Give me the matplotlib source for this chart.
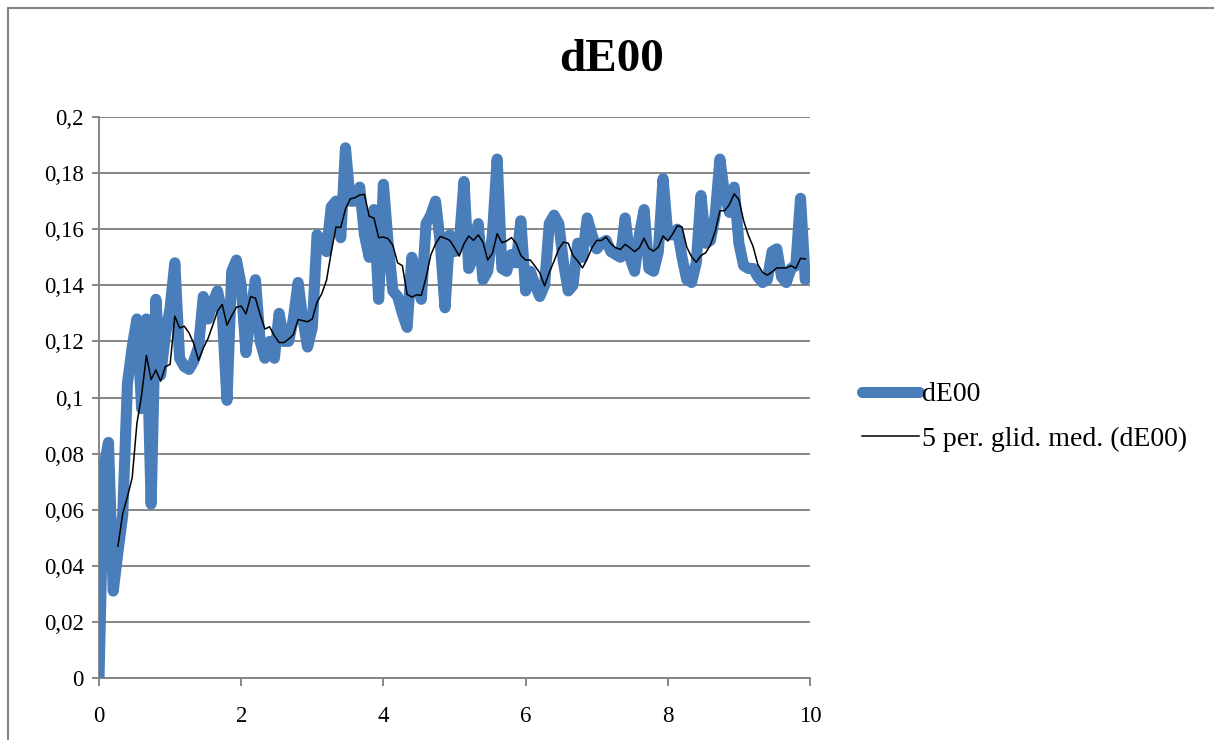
import matplotlib
matplotlib.use("Agg")
import matplotlib.pyplot as plt
import numpy as np
import pandas as pd
from matplotlib.patches import Rectangle

# measurement series, one point every 1/15 unit on x
step = 1 / 15
de00 = [
    0.000, 0.075, 0.084, 0.031, 0.045, 0.058, 0.105, 0.118, 0.128, 0.096,
    0.128, 0.062, 0.135, 0.108, 0.122, 0.132, 0.148, 0.114, 0.111, 0.110,
    0.113, 0.118, 0.136, 0.128, 0.134, 0.138, 0.130, 0.099, 0.145, 0.149,
    0.140, 0.116, 0.130, 0.142, 0.120, 0.114, 0.120, 0.114, 0.130, 0.120,
    0.120, 0.128, 0.141, 0.128, 0.118, 0.125, 0.158, 0.156, 0.152, 0.168,
    0.170, 0.157, 0.189, 0.170, 0.170, 0.175, 0.158, 0.150, 0.167, 0.135,
    0.176, 0.155, 0.138, 0.136, 0.130, 0.125, 0.150, 0.142, 0.135, 0.162,
    0.165, 0.170, 0.155, 0.132, 0.158, 0.152, 0.155, 0.177, 0.146, 0.150,
    0.162, 0.142, 0.145, 0.158, 0.185, 0.146, 0.145, 0.151, 0.148, 0.163,
    0.138, 0.145, 0.140, 0.136, 0.140, 0.162, 0.165, 0.162, 0.148, 0.138,
    0.140, 0.155, 0.150, 0.164, 0.158, 0.153, 0.155, 0.156, 0.152, 0.151,
    0.150, 0.164, 0.150, 0.145, 0.158, 0.167, 0.146, 0.145, 0.152, 0.178,
    0.158, 0.158, 0.160, 0.150, 0.142, 0.141, 0.148, 0.172, 0.155, 0.156,
    0.165, 0.185, 0.172, 0.166, 0.175, 0.155, 0.147, 0.146, 0.146, 0.143,
    0.141, 0.142, 0.152, 0.153, 0.143, 0.141, 0.146, 0.147, 0.171, 0.142,
]
x = np.arange(len(de00)) * step
ma = pd.Series(de00).rolling(5).mean()

xticks = [0, 2, 4, 6, 8, 10]
yticks = [0, 0.02, 0.04, 0.06, 0.08, 0.1, 0.12, 0.14, 0.16, 0.18, 0.2]

serif = ["Liberation Serif", "DejaVu Serif"]
grey = "#868686"

fig = plt.figure(figsize=(12.14, 7.40), dpi=100)
ax = fig.add_axes([99 / 1214, 1 - 678 / 740, 711 / 1214, 561 / 740])

ax.plot(x, de00, color="#4A7EBB", lw=8, solid_joinstyle="round",
        solid_capstyle="round", label="dE00", zorder=3)
ax.plot(x, ma, color="black", lw=1.1, label="5 per. glid. med. (dE00)", zorder=4)

ax.set_xlim(0, 10)
ax.set_ylim(0, 0.2)
ax.set_xticks(xticks)
ax.set_yticks(yticks)
ax.set_xticklabels([str(t) for t in xticks])
ax.set_yticklabels([f"{t:g}".replace(".", ",") for t in yticks])
ax.yaxis.grid(True, color=grey, lw=1.4)
ax.set_axisbelow(True)
for s in ["top", "right"]:
    ax.spines[s].set_visible(False)
for s in ["left", "bottom"]:
    ax.spines[s].set_color(grey)
    ax.spines[s].set_linewidth(1.4)
ax.tick_params(axis="y", length=5, width=1.4, color=grey, pad=6)
ax.tick_params(axis="x", length=6, width=1.4, color=grey, pad=14)
for lab in ax.get_xticklabels() + ax.get_yticklabels():
    lab.set_family(serif)
    lab.set_fontsize(16.5)

fig.text(0.504, 1 - 60 / 740, "dE00", ha="center", va="center",
         family=serif, fontsize=34, fontweight="bold")

ax.legend(loc="center left", bbox_to_anchor=(862 / 1214, 1 - 417 / 740),
          bbox_transform=fig.transFigure, frameon=False, borderpad=0,
          borderaxespad=0, handlelength=2.05, handletextpad=0.12,
          labelspacing=0.7, prop={"family": serif, "size": 20})

# outer chart frame (only top and left edges are inside the picture)
fig.patches.append(Rectangle((8 / 1214, -0.1), 1.2, 1 - 8 / 740 + 0.1,
                             transform=fig.transFigure, fill=False,
                             edgecolor=grey, lw=1.5))

fig.savefig("out.png", dpi=100)
